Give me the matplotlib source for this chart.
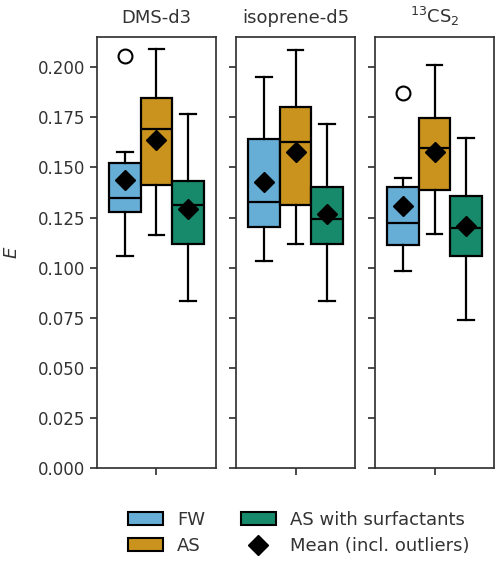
import numpy as np
import matplotlib.pyplot as plt
from matplotlib.patches import Patch
from matplotlib.lines import Line2D
from matplotlib.ticker import MultipleLocator, FormatStrFormatter

# Data
compounds = ['DMS-d3', 'isoprene-d5', r'$^{13}$CS$_2$']
groups = ['FW', 'AS', 'AS with surfactants']
colors = ['#67AED6', '#C9931E', '#168A6A']

# per compound: one row per group -> [whislo, q1, med, q3, whishi, mean]
dms_stats = [
    [0.1061, 0.1277, 0.1348, 0.1520, 0.1575, 0.1436],
    [0.1162, 0.1415, 0.1692, 0.1847, 0.2088, 0.1639],
    [0.0833, 0.1117, 0.1313, 0.1431, 0.1766, 0.1293],
]
iso_stats = [
    [0.1034, 0.1204, 0.1330, 0.1643, 0.1953, 0.1428],
    [0.1119, 0.1313, 0.1629, 0.1799, 0.2083, 0.1579],
    [0.0833, 0.1117, 0.1242, 0.1401, 0.1716, 0.1268],
]
cs2_stats = [
    [0.0983, 0.1116, 0.1224, 0.1401, 0.1448, 0.1307],
    [0.1166, 0.1388, 0.1598, 0.1747, 0.2013, 0.1578],
    [0.0742, 0.1059, 0.1197, 0.1360, 0.1648, 0.1208],
]
dms_fliers = [[0.2053], [], []]
iso_fliers = [[], [], []]
cs2_fliers = [[0.1869], [], []]

all_stats = [dms_stats, iso_stats, cs2_stats]
all_fliers = [dms_fliers, iso_fliers, cs2_fliers]

plt.rcParams['font.family'] = ['DejaVu Sans']
plt.rcParams['font.size'] = 12
dark = '#333333'

fig, axes = plt.subplots(1, 3, figsize=(5.0, 5.61), dpi=100, sharey=True)
fig.subplots_adjust(left=0.194, right=0.988, top=0.934, bottom=0.165, wspace=0.17)

width = 0.8 / 3
positions = [-width, 0, width]

for ax, title, stats, fliers in zip(axes, compounds, all_stats, all_fliers):
    bstats = []
    for row, fl in zip(stats, fliers):
        bstats.append(dict(whislo=row[0], q1=row[1], med=row[2], q3=row[3],
                           whishi=row[4], mean=row[5], fliers=fl))
    bp = ax.bxp(bstats, positions=positions, widths=width, patch_artist=True,
                showmeans=True, showfliers=True, manage_ticks=False,
                boxprops=dict(edgecolor='black', linewidth=1.6),
                medianprops=dict(color='black', linewidth=1.6),
                whiskerprops=dict(color='black', linewidth=1.6),
                capprops=dict(color='black', linewidth=1.6),
                meanprops=dict(marker='D', markerfacecolor='black',
                               markeredgecolor='black', markersize=10),
                flierprops=dict(marker='o', markerfacecolor='none',
                                markeredgecolor='black', markersize=10,
                                markeredgewidth=1.5))
    for box, c in zip(bp['boxes'], colors):
        box.set_facecolor(c)
    ax.set_xlim(-0.5, 0.5)
    ax.set_xticks([0])
    ax.set_xticklabels([''])
    ax.set_title(title, color=dark, fontsize=13, pad=10)
    for sp in ax.spines.values():
        sp.set_color(dark)
        sp.set_linewidth(1.25)
    ax.tick_params(colors=dark, width=1.25, length=5, labelsize=12)

axes[0].set_ylim(0, 0.215)
axes[0].yaxis.set_major_locator(MultipleLocator(0.025))
axes[0].yaxis.set_major_formatter(FormatStrFormatter('%.3f'))
axes[0].set_ylabel('$E$', color=dark, fontsize=13, labelpad=12)

handles = [Patch(facecolor=colors[0], edgecolor='black', linewidth=1.5, label='FW'),
           Patch(facecolor=colors[1], edgecolor='black', linewidth=1.5, label='AS'),
           Patch(facecolor=colors[2], edgecolor='black', linewidth=1.5, label='AS with surfactants'),
           Line2D([], [], marker='D', color='black', linestyle='none', markersize=10,
                  label='Mean (incl. outliers)')]
leg = fig.legend(handles=handles, loc='center', bbox_to_anchor=(0.598, 0.050),
                 ncol=2, frameon=False, fontsize=13, handlelength=1.9,
                 columnspacing=2.0, labelspacing=0.45)
for t in leg.get_texts():
    t.set_color(dark)

plt.savefig('out.png', dpi=100)
